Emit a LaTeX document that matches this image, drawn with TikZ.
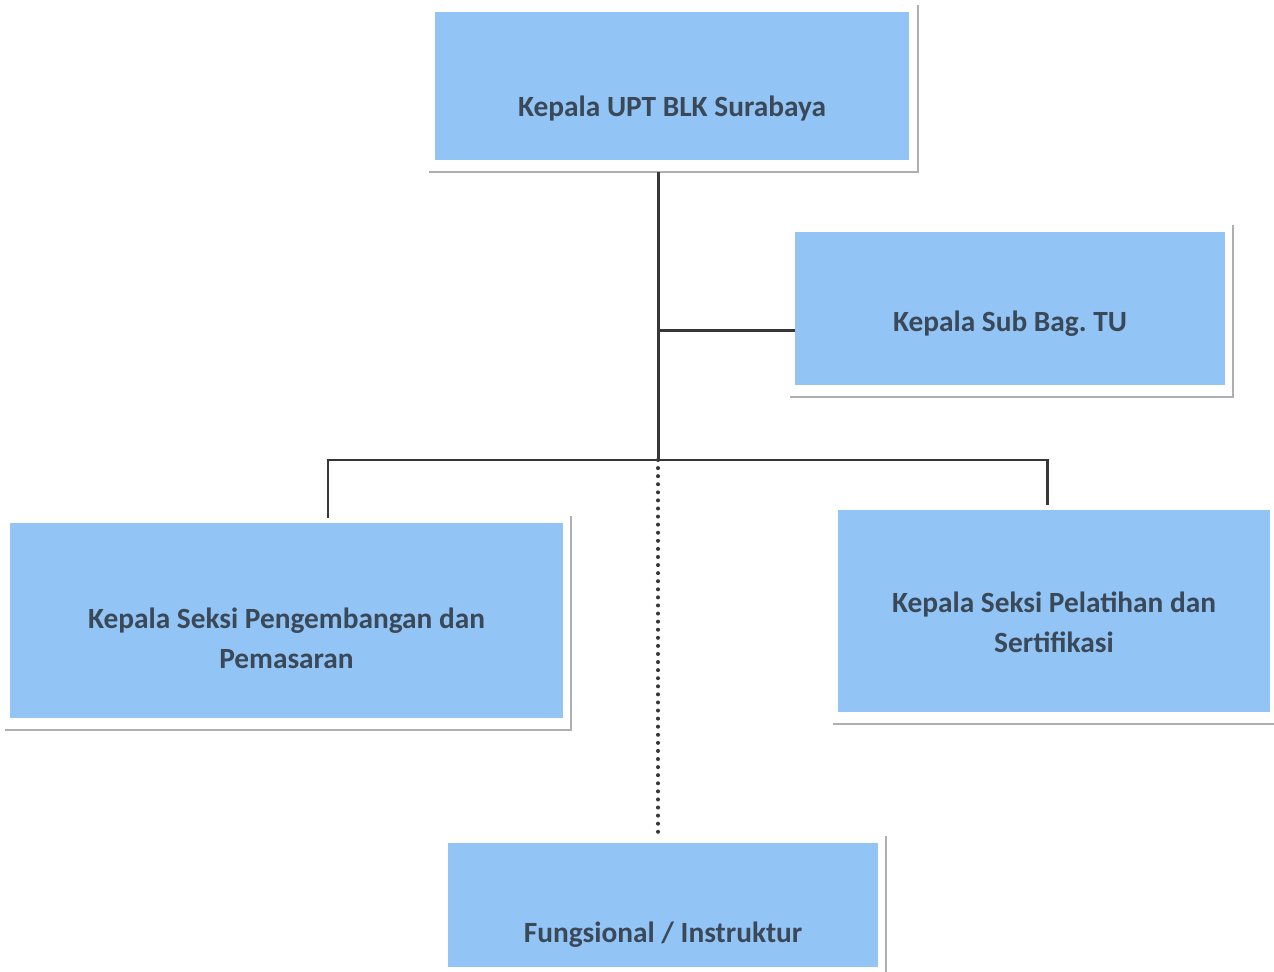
\documentclass[tikz,border=0pt]{standalone}
\usepackage{fontspec}
\setmainfont{Carlito}
\usetikzlibrary{positioning}
\definecolor{boxblue}{RGB}{146,197,245}
\definecolor{inkslate}{RGB}{58,72,88}
\definecolor{rimgray}{RGB}{175,175,178}
\definecolor{wiregray}{RGB}{55,55,55}

\begin{document}
\begin{tikzpicture}[x=0.02cm,y=-0.02cm,
	unitbox/.style={fill=boxblue,draw=none,inner sep=0pt},
	unittext/.style={align=center,text=inkslate,inner sep=0pt,
		font=\fontsize{16.7}{22.7}\selectfont\bfseries\frenchspacing},
	rim/.style={draw=rimgray,line width=1.1pt},
	wire/.style={draw=wiregray,line width=1.7pt},
	dotwire/.style={draw=wiregray,line width=2.3pt,line cap=round,dash pattern=on 0pt off 4.6pt}]
	\useasboundingbox (0,0) rectangle (1274,972);
	% units
	\node[unitbox,minimum width=9.5cm,minimum height=2.96cm,
		label={[unittext,name=kepalatext,yshift=-0.46cm]center:Kepala UPT BLK Surabaya}] (kepala) at (672,86) {};
	\node[unitbox,minimum width=8.6cm,minimum height=3.06cm,
		label={[unittext,name=tutext,yshift=-0.3cm]center:Kepala Sub Bag. TU}] (tu) at (1010,308.5) {};
	\node[unitbox,minimum width=11.06cm,minimum height=3.9cm,
		label={[unittext,name=kembangtext,yshift=-0.36cm]center:Kepala Seksi Pengembangan dan\\Pemasaran}] (kembang) at (286.5,620.5) {};
	\node[unitbox,minimum width=8.64cm,minimum height=4.04cm,
		label={[unittext,name=latihtext,yshift=-0.22cm]center:Kepala Seksi Pelatihan dan\\Sertifikasi}] (latih) at (1054,611) {};
	\node[unitbox,minimum width=8.6cm,minimum height=2.48cm,
		label={[unittext,name=fungsitext,yshift=-0.6cm]center:Fungsional / Instruktur}] (fungsi) at (663,905) {};
	\foreach \n in {kepala,tu,kembang,latih,fungsi}
		\draw[rim] ([xshift=-0.1cm,yshift=-0.24cm]\n.south west) -- ([xshift=0.16cm,yshift=-0.24cm]\n.south east)
			-- ([xshift=0.16cm,yshift=0.14cm]\n.north east);
	% lines
	\coordinate (hub) at (658,460);
	\coordinate (busl) at (328,460);
	\coordinate (busr) at (1047,460);
	\path ([yshift=-0.44cm]tu.west) coordinate (tutap);
	\draw[wire] (hub |- kepala.south) ++(0,12) -- (hub);
	\draw[wire] (tutap) -- (tutap -| hub);
	\draw[wire] (kembang.north -| busl) ++(0,-5) -- (busl) -- (busr) -- ([yshift=0.1cm]latih.north -| busr);
	\draw[dotwire,shorten >=0.2cm] (hub) -- (fungsi.north -| hub);
\end{tikzpicture}
\end{document}
